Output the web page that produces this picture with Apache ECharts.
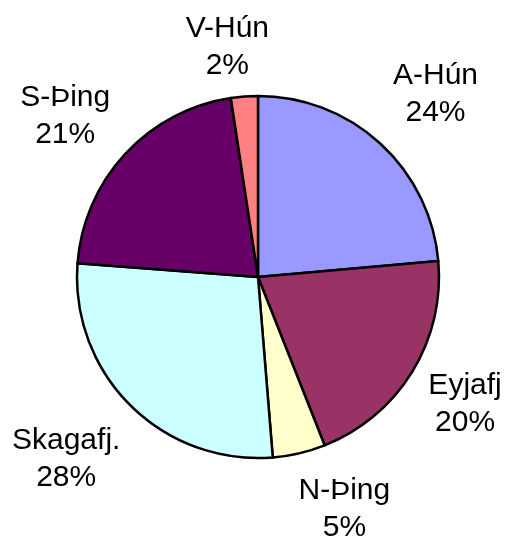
<!DOCTYPE html>
<html>
<head>
<meta charset="utf-8">
<script src="https://cdn.jsdelivr.net/npm/echarts@6/dist/echarts.min.js"></script>
<style>
html,body{margin:0;padding:0;background:#fff;}
#chart{width:505px;height:537px;}
</style>
</head>
<body>
<div id="chart"></div>
<script>
var categories = ['A-Hún', 'Eyjafj', 'N-Þing', 'Skagafj.', 'S-Þing', 'V-Hún'];
var values = [23.6, 20.4, 4.7, 27.5, 21.4, 2.4];
var colors = ['#9999FF', '#993366', '#FFFFCC', '#CCFFFF', '#660066', '#FF8080'];

var labelNudge = [[10, 0], [-4, -3], [30, -9], [-17, 6], [-11, 8], [-12, 18]];

var mainData = categories.map(function (c, i) {
  return { name: c, value: values[i], itemStyle: { color: colors[i] } };
});
var ghostData = categories.map(function (c, i) {
  return { name: c, value: values[i], label: { offset: labelNudge[i] } };
});

var chart = echarts.init(document.getElementById('chart'), null, { renderer: 'canvas' });
chart.setOption({
  backgroundColor: '#ffffff',
  animation: false,
  series: [
    {
      type: 'pie',
      center: [258, 277],
      radius: [0, 181],
      startAngle: 90,
      clockwise: true,
      avoidLabelOverlap: false,
      silent: true,
      label: { show: false },
      labelLine: { show: false },
      itemStyle: { borderColor: '#000000', borderWidth: 2.5 },
      data: mainData
    },
    {
      type: 'pie',
      center: [258, 277],
      radius: [230, 260],
      startAngle: 90,
      clockwise: true,
      avoidLabelOverlap: false,
      silent: true,
      itemStyle: { color: 'rgba(0,0,0,0)', borderWidth: 0 },
      labelLine: { show: false },
      label: {
        show: true,
        position: 'inside',
        color: '#000000',
        fontFamily: 'Liberation Sans, Arial, sans-serif',
        fontSize: 30,
        lineHeight: 37,
        formatter: function (p) {
          return p.name + '\n' + Math.round(p.percent) + '%';
        }
      },
      data: ghostData
    }
  ]
});
</script>
</body>
</html>
